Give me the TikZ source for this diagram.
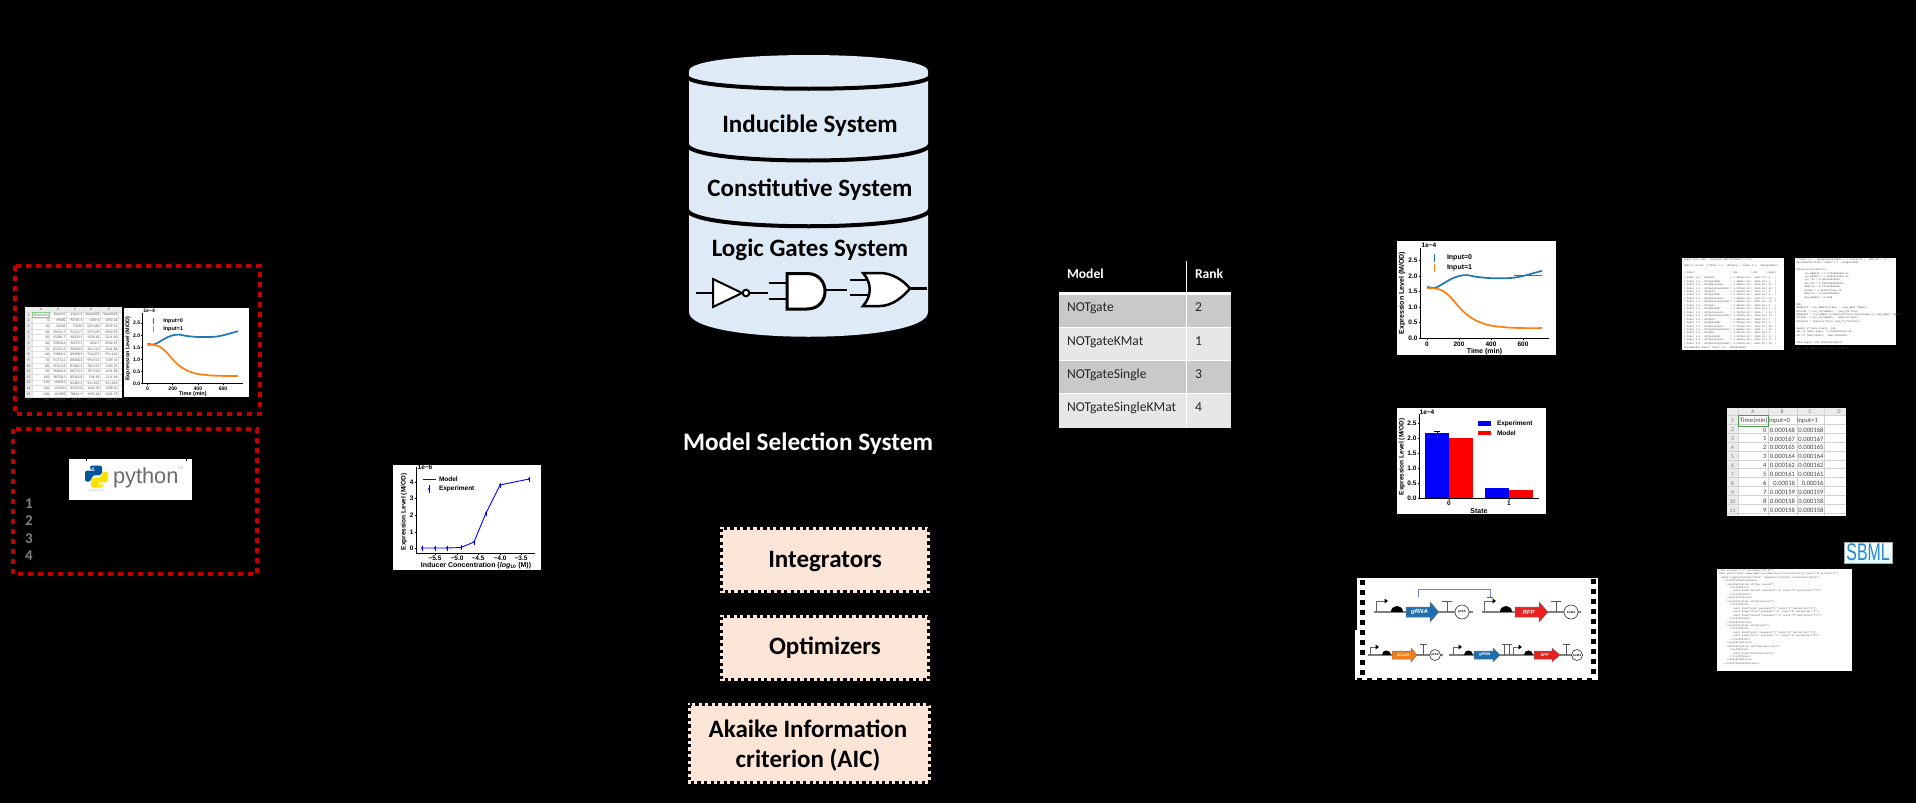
\documentclass[tikz,border=0pt]{standalone}
\usepackage{fontspec}
\setmainfont{Carlito}
\newfontfamily\ar{Liberation Sans}
\newfontfamily\mono{Liberation Mono}
\newcommand\fsz[1]{\fontsize{#1}{#1}\selectfont}
\newcommand\abold[1]{\ar\bfseries\fontsize{#1}{#1}\selectfont}
\definecolor{cylblue}{HTML}{DEEBF7}
\definecolor{peach}{HTML}{FBE5D6}
\definecolor{dred}{HTML}{C00000}
\definecolor{rowa}{HTML}{C9C9C9}
\definecolor{rowb}{HTML}{E7E7E7}
\definecolor{mplblue}{HTML}{1F77B4}
\definecolor{mplorange}{HTML}{FF7F0E}
\definecolor{grnblue}{HTML}{1F6FB0}
\definecolor{grnred}{HTML}{E8201F}
\definecolor{grnorange}{HTML}{F57F17}
\definecolor{grayline}{HTML}{7F7F7F}
\definecolor{sbmlblue}{HTML}{2A86C8}
\tikzset{
  every node/.style={inner sep=0pt,outer sep=0pt},
  redbox/.style={draw=dred,line width=4.5pt,dash pattern=on 5pt off 5pt},
  bigtxt/.style={anchor=base,font=\bfseries\fsz{25}},
  peachbox/.style={fill=peach},
  peachdash/.style={draw=black,line width=3pt,dash pattern=on 3.3pt off 3.3pt},
  tabtxt/.style={anchor=base west,font=\fsz{13.6}},
  tick/.style={line width=.6pt,black},
  axisl/.style={line width=.7pt,black},
  ticklab/.style={font=\abold{6.5}},
  leglab/.style={font=\abold{7},anchor=west},
  axlab/.style={font=\abold{7}},
  axlabs/.style={font=\abold{6.5}},
  celltxt/.style={font=\fsz{3.7},text=black!65},
  bigcell/.style={font=\fsz{6.6},text=black!75},
  gridl/.style={line width=.25pt,black!12},
  gline/.style={line width=1.3pt,grayline},
  gterm/.style={line width=.9pt,black!65},
  logtxt/.style={anchor=north west,font=\mono\fontsize{2.45}{3.45}\selectfont,text=black!70,align=left},
}
% time-course plot drawn in a 159 x 114 local box
\newcommand\timeplot{%
  \fill[white] (0,0) rectangle (159,114);
  \draw[axisl] (23,7) -- (23,97) -- (152,97);
  \foreach \v/\lab in {0/0.0,0.5/0.5,1/1.0,1.5/1.5,2/2.0,2.5/2.5}{
    \draw[tick] (21.5,{97-31*\v}) -- (23,{97-31*\v});
    \node[ticklab,anchor=east] at (20.5,{97-31*\v}) {\lab};
  }
  \foreach \v in {0,200,400,600}{
    \draw[tick] ({30+.16*\v},97) -- ({30+.16*\v},98.5);
    \node[ticklab] at ({30+.16*\v},103.5) {\v};
  }
  \node[axlab] at (87.5,111) {Time (min)};
  \node[axlab,rotate=90] at (5,52) {Expression Level (M/OD)};
  \node[ticklab] at (32,4) {1e−4};
  \begin{scope}[shift={(30,97)},x=.16pt,y=31pt]
    \draw[mplblue,line width=1.7pt,smooth] plot coordinates {(0,1.65)(50,1.62)(100,1.75)(150,1.9)(200,2.0)(250,2.03)(300,1.98)(350,1.95)(400,1.93)(500,1.93)(550,1.95)(600,2.0)(650,2.07)(720,2.17)};
    \draw[mplorange,line width=1.7pt,smooth] plot coordinates {(0,1.6)(50,1.6)(100,1.52)(150,1.3)(200,1.0)(250,.75)(300,.58)(350,.47)(400,.4)(500,.34)(600,.32)(720,.32)};
  \end{scope}
  \draw[mplblue,line width=.7pt] (37.5,12.5) -- (37.5,21);
  \fill[mplblue] (37.5,17) circle (1);
  \draw[mplorange,line width=.7pt] (37.5,22.5) -- (37.5,31);
  \fill[mplorange] (37.5,27) circle (1);
  \node[leglab] at (50,17) {Input=0};
  \node[leglab] at (50,27) {Input=1};
}
\newcommand\promoter[4]{% x, base y, top y, arrow end x
  \draw[line width=.9pt,black!60] (#1,#2) -- (#1,#3) -- ({#4-3},#3);
  \fill[black] ({#4-3.5},{#3-2.5}) -- (#4,#3) -- ({#4-3.5},{#3+2.5}) -- cycle;
}
\newcommand\rbs[3]{% x, y, r
  \fill[black] ({#1-#3},#2) .. controls ({#1-#3},{#2-1.33*#3}) and ({#1+#3},{#2-1.33*#3}) .. ({#1+#3},#2) -- cycle;
}
\newcommand\gterminator[3]{% x, base y, half bar
  \draw[gterm] (#1,#2) -- (#1,{#2-10.5});
  \draw[gterm] ({#1-#3},{#2-10.5}) -- ({#1+#3},{#2-10.5});
}
\newcommand\gorigin[4]{% x, y, r, text
  \node[circle,draw=black!80,line width=.6pt,fill=white,minimum size={2*#3},font=\abold{3}] at (#1,#2) {#4};
}
\newcommand\gene[9]{% x1, xhead, x2, y, hb, hh, colour, text, size
  \fill[#7,draw=black!55,line width=.5pt] (#1,{#4-#5}) -- (#2,{#4-#5}) -- (#2,{#4-#6}) -- (#3,#4) -- (#2,{#4+#6}) -- (#2,{#4+#5}) -- (#1,{#4+#5}) -- cycle;
  \node[text=white,font=\ar\bfseries\itshape\fontsize{#9}{#9}\selectfont] at ({(#1+#2)/2+1.5},#4) {#8};
}
\begin{document}
\begin{tikzpicture}[x=1pt,y=-1pt]
\path[use as bounding box,fill=black] (0,0) rectangle (1916,803);

% ---------- left: red dotted boxes ----------
\draw[redbox] (15,266) rectangle (260,414);
\draw[redbox] (13,429) rectangle (257,574);

% spreadsheet, left
\fill[white] (25,307) rectangle (122,398);
\fill[black!8] (25,307) rectangle (122,312);
\fill[black!8] (25,312) rectangle (32,398);
\foreach \x in {32,49.5,66,83,100,118}{\draw[gridl] (\x,307) -- (\x,398);}
\foreach \i in {0,...,15}{\draw[gridl] (25,{312+\i*5.65}) -- (122,{312+\i*5.65});}
\foreach \x/\c in {41/A,58/B,75/C,91/D,109/E}{\node[celltxt] at (\x,309.6) {\c};}
\draw[black!35!green!50,line width=.5pt] (32,312) rectangle (49.5,317.6);
\node[celltxt,anchor=east] at (49,315) {Time(min)};
\node[celltxt,anchor=east] at (65.5,315) {Input=0};
\node[celltxt,anchor=east] at (82.5,315) {Input=1};
\node[celltxt,anchor=east] at (99.5,315) {Input0AX};
\node[celltxt,anchor=east] at (117.5,315) {Input0AX};
\node[celltxt] at (28.5,315) {1};
\foreach \t/\b/\c/\d/\e [count=\i from 1] in {0/49082/95701.5/1369.6/3392.34,10/54306/93050/529.082/3939.31,20/50154.7/91512.7/559.549/3922.59,30/93381.7/90303.5/1558.62/2311.03,40/59858.6/90579.5/1832.7/2902.95,50/83332.5/90450.9/281.113/1041.86,60/93868.5/89098.9/724.073/951.162,70/94774.2/88568.5/996.537/1109.35,80/95510.8/87685.3/780.519/1100.35,90/96880.6/86775.9/787.552/1231.86,100/98758.5/85562.8/936.58/1311.96,110/100013/82481.5/941.607/921.842,120/102050/83535.8/1040.96/1358.04,130/101898/78651.9/1493.66/1421.73,140/105325/76010.7/703.237/1305.36}{
  \pgfmathsetmacro\yy{315+\i*5.65}
  \pgfmathtruncatemacro\rr{\i+1}
  \node[celltxt] at (28.5,\yy) {\rr};
  \node[celltxt,anchor=east] at (49,\yy) {\t};
  \node[celltxt,anchor=east] at (65.5,\yy) {\b};
  \node[celltxt,anchor=east] at (82.5,\yy) {\c};
  \node[celltxt,anchor=east] at (99.5,\yy) {\d};
  \node[celltxt,anchor=east] at (117.5,\yy) {\e};
}
\begin{scope}[shift={(124,308)},xscale=.786,yscale=.78,every node/.append style={transform shape}]
  \timeplot
\end{scope}

% python logo
\fill[white] (69,459) rectangle (192,500);
\fill[black] (85.5,459) rectangle (87,461);
\fill[black] (185.5,459) rectangle (187,461);
\fill[black!8] (96.5,490) ellipse (9 and 1.5);
\fill[blue!45!cyan!60!black,rounded corners=2pt] (90,465.5) -- (102,465.5) -- (102,475) -- (92,475.6) -- (91,481.5) -- (85,481.5) -- (85,470.7) -- (96,470.7) -- (96,469.5) -- (90,469.5) -- cycle;
\fill[yellow!85!orange,rounded corners=2pt] (103,487.5) -- (91,487.5) -- (91,478) -- (101,477.4) -- (102,471.5) -- (108,471.5) -- (108,482.3) -- (97,482.3) -- (97,483.5) -- (103,483.5) -- cycle;
\fill[white] (93,468) circle (.9);
\fill[white] (100,485) circle (.9);
\node[anchor=base west,text=black!58,font=\ar\fontsize{21.8}{21.8}\selectfont] (py) at (113,483.5) {python};
\node[text=black!35,font=\ar\fontsize{3.5}{3.5}\selectfont] at (180.5,468) {TM};
\foreach \n/\yb in {1/508,2/525,3/543,4/560}{
  \node[anchor=base,text=grayline,font=\bfseries\fsz{15}] at (29,\yb) {\n};
}

% ---------- dose-response plot ----------
\fill[white] (393,465) rectangle (541,570);
\draw[axisl] (416,467) -- (416,553) -- (535,553);
\foreach \v/\yy in {0/548,1/532,2/515.5,3/498,4/482}{
  \draw[tick] (414.5,\yy) -- (416,\yy);
  \node[ticklab,anchor=east] at (413.5,\yy) {\v};
}
\foreach \lab/\xx in {−5.5/435,−5.0/457,−4.5/478,−4.0/500,−3.5/521}{
  \draw[tick] (\xx,553) -- (\xx,554.5);
  \node[ticklab] at (\xx,558) {\lab};
}
\node[axlabs,rotate=90] at (404,512) {Expression Level (M/OD)};
\node[font=\abold{7}] at (476,566) {Inducer Concentration (\textit{log}\textsubscript{10} (M))};
\node[ticklab] at (425,467.5) {1e−6};
\draw[blue,line width=.9pt] (422,548) -- (435,548) -- (447,548) -- (461,547.5) -- (474,542) -- (486,513) -- (500,485) -- (529,479);
\foreach \xx/\yy in {422/548,435/548,447/548,461/547.5,474/542,486/513,500/485,529/479}{
  \fill[blue] (\xx,\yy) circle (1.1);
  \draw[blue,line width=.4pt] (\xx,{\yy-2.5}) -- (\xx,{\yy+2.5});
}
\draw[blue,line width=.9pt] (423,479) -- (436,479);
\draw[blue,line width=.5pt] (429,485) -- (429,493);
\fill[blue] (429,489) circle (1.2);
\node[ticklab,anchor=west] at (439,479.5) {Model};
\node[ticklab,anchor=west] at (439,489) {Experiment};

% ---------- cylinder ----------
\fill[cylblue] (689,71) .. controls (689,49.7) and (928,49.7) .. (928,71) -- (928,312) .. controls (928,345) and (689,345) .. (689,312) -- cycle;
\draw[black,line width=4pt] (687,76) .. controls (687,93) and (930,93) .. (930,76);
\draw[black,line width=4pt] (687,144) .. controls (687,166) and (930,166) .. (930,144);
\draw[black,line width=4pt] (687,209) .. controls (687,232) and (930,232) .. (930,209);
\node[bigtxt] (indsys) at (810,132) {Inducible System};
\node[bigtxt] (consys) at (810,196) {Constitutive System};
\node[bigtxt] (logsys) at (810,256) {Logic Gates System};
% NOT gate
\draw[black,line width=2pt] (696,293) -- (713,293);
\draw[black,line width=2pt] (745,293) -- (768,293);
\draw[black,line width=2pt,fill=white] (713,279) -- (713,307) -- (742,293) -- cycle;
\draw[black,line width=2pt,fill=white] (746,293) circle (3.3);
% AND gate
\draw[black,line width=2.5pt] (769,283) -- (787,283);
\draw[black,line width=2.5pt] (769,299) -- (787,299);
\draw[black,line width=2.5pt] (825,290) -- (847,290);
\draw[black,line width=3pt,fill=white] (787,273.5) -- (807,273.5) .. controls (831,273.5) and (831,309) .. (807,309) -- (787,309) -- cycle;
% OR gate
\draw[black,line width=2.5pt] (850,280) -- (870,280);
\draw[black,line width=2.5pt] (850,295) -- (870,295);
\draw[black,line width=2.5pt] (908,288.5) -- (927,288.5);
\draw[black,line width=2.5pt,fill=white] (863,273) -- (880,273) .. controls (892,273) and (903,280) .. (910,288.5) .. controls (903,297) and (892,306) .. (880,306) -- (863,306) .. controls (872,296) and (872,283) .. (863,273) -- cycle;

\node[anchor=base,text=white,font=\bfseries\fsz{25.2}] (msel) at (808,450.5) {Model Selection System};

% ---------- peach boxes ----------
\fill[peachbox] (720,527) rectangle (930,593);
\draw[peachdash] (721.5,528.5) rectangle (928.5,591.5);
\node[bigtxt] (integ) at (825,567) {Integrators};
\fill[peachbox] (720,615) rectangle (930,681);
\draw[peachdash] (721.5,616.5) rectangle (928.5,679.5);
\node[bigtxt] (optim) at (825,654) {Optimizers};
\fill[peachbox] (688,703) rectangle (931,784);
\draw[peachdash] (689.5,704.5) rectangle (929.5,782.5);
\node[bigtxt] (aic1) at (808,737) {Akaike Information};
\node[bigtxt] (aic2) at (808,767) {criterion (AIC)};

% ---------- ranking table ----------
\fill[white] (1059,292) rectangle (1231,295);
\fill[rowa] (1059,295) rectangle (1231,327);
\fill[white] (1059,327) rectangle (1231,328);
\fill[rowb] (1059,328) rectangle (1231,360);
\fill[white] (1059,360) rectangle (1231,361);
\fill[rowa] (1059,361) rectangle (1231,393);
\fill[white] (1059,393) rectangle (1231,394);
\fill[rowb] (1059,394) rectangle (1231,428);
\draw[white,line width=1pt] (1186,261) -- (1186,428);
\node[tabtxt,text=white,font=\bfseries\fsz{13.6}] at (1067,278) {Model};
\node[tabtxt,text=white,font=\bfseries\fsz{13.6}] at (1195,278) {Rank};
\foreach \m/\r/\yb in {NOTgate/2/311.5,NOTgateKMat/1/345,NOTgateSingle/3/378.5,NOTgateSingleKMat/4/411.5}{
  \node[tabtxt,text=black!85] at (1067,\yb) {\m};
  \node[tabtxt,text=black!85] at (1195,\yb) {\r};
}

% ---------- result plots ----------
\begin{scope}[shift={(1397,241)}]
  \timeplot
  \draw[mplblue,line width=.5pt] (117,34.5) -- (145,34.5);
\end{scope}

\fill[white] (1397,408) rectangle (1546,514);
\fill[blue] (1425,433) rectangle (1449,498);
\fill[red] (1449,438) rectangle (1473,498);
\fill[blue] (1485,488) rectangle (1509,498);
\fill[red] (1509,489.5) rectangle (1533,498);
\draw[black,line width=.4pt] (1437,431.5) -- (1437,433) (1434,431.5) -- (1440,431.5);
\draw[black,line width=.4pt] (1497,487.5) -- (1497,488);
\draw[axisl] (1419,414) -- (1419,498) -- (1539,498);
\foreach \v/\yy in {0.0/498,0.5/483,1.0/468,1.5/453,2.0/438,2.5/423}{
  \draw[tick] (1417.5,\yy) -- (1419,\yy);
  \node[ticklab,anchor=east] at (1416.5,\yy) {\v};
}
\foreach \v/\xx in {0/1449,1/1509}{
  \draw[tick] (\xx,498) -- (\xx,499.5);
  \node[ticklab] at (\xx,503.5) {\v};
}
\node[axlab] at (1479,511) {State};
\node[axlabs,rotate=90] at (1402,457) {Expression Level (M/OD)};
\node[ticklab] at (1427,412) {1e−4};
\fill[blue] (1478,421) rectangle (1491,425.5);
\fill[red] (1478,430.5) rectangle (1491,435);
\node[ticklab,anchor=west] at (1497,423.5) {Experiment};
\node[ticklab,anchor=west] at (1497,433) {Model};

% ---------- gene circuits ----------
\fill[white] (1357,578) rectangle (1598,630);
\fill[white] (1355,630) rectangle (1598,680);
\foreach \i in {0,...,9}{
  \fill[black] (1360,{580+\i*10}) rectangle (1365,{585+\i*10});
  \fill[black] (1591,{579+\i*10}) rectangle (1596,{584+\i*10});
}
\foreach \i in {0,...,23}{\fill[black] ({1357+\i*10},678) rectangle ({1362+\i*10},680);}
% top row
\draw[gline] (1374,612) -- (1473,612);
\draw[gline] (1482,612) -- (1581,612);
\promoter{1376}{612}{601}{1388}
\rbs{1397}{612}{6}
\gene{1406}{1430}{1439}{612}{5}{10}{grnblue}{gRNA}{6}
\gterminator{1447}{612}{5}
\gorigin{1462}{612}{7}{p15A}
\draw[line width=1pt,black!20!cyan!40!blue!60] (1418,597) -- (1418,589) -- (1490,589) -- (1490,597);
\draw[line width=1pt,grnblue] (1487,597.5) -- (1493,597.5);
\promoter{1484}{612}{601}{1496}
\rbs{1506}{612}{6}
\gene{1515}{1539}{1548}{612}{5}{10}{grnred}{RFP}{6}
\gterminator{1556}{612}{5}
\gorigin{1571}{612}{7}{ColE1}
% bottom row
\draw[gline] (1368,655) -- (1443,655);
\draw[gline] (1449,655) -- (1583,655);
\promoter{1370}{655}{647}{1379}
\rbs{1386}{655}{4.5}
\gene{1392}{1411}{1417}{655}{4}{7}{grnorange}{dCas9}{4}
\gterminator{1423}{655}{3.5}
\gorigin{1435}{655}{5.5}{p15A}
\promoter{1453}{655}{647}{1462}
\rbs{1468}{655}{4.5}
\gene{1474}{1493}{1500}{655}{4}{7}{grnblue}{gRNA}{4}
\gterminator{1504}{655}{2.5}
\gterminator{1509}{655}{2.5}
\promoter{1513}{655}{647}{1522}
\rbs{1528}{655}{4.5}
\gene{1534}{1552}{1560}{655}{4}{7}{grnred}{RFP}{4}
\gterminator{1566}{655}{3.5}
\gorigin{1577}{655}{5.5}{ColE1}

% ---------- console logs ----------
\fill[white] (1682,258) rectangle (1784,350);
\node[logtxt] (log1) at (1684,258.5) {%
Input file name: Logicdata\_NOTfastRESULT\_1.csv\\[2.4pt]
Models Tested: ['Model 1.0 - NOTgate', 'Model 1.1 - NOTgateKMat', '\\[3pt]
\begin{tabular}{@{}l@{\,\,}l@{\,\,}l@{\,\,}l@{\,}l@{}}
| Model &| SSE &| AIC &| Rank &|\\[2.2pt]
| Model 1.0 - NOTgate &| 1.48315e-04 &| -3530.75 &| 5 &|\\
| Model 1.1 - NOTgateKMat &| 1.18961e-04 &| -3565.33 &| 1 &|\\
| Model 1.2 - NOTgateSingle &| 1.53567e-04 &| -3525.62 &| 13 &|\\
| Model 1.3 - NOTgateSingleKMat &| 1.37390e-04 &| -3500.59 &| 10 &|\\
| Model 1.0 - NOTgate &| 1.48315e-04 &| -3530.75 &| 5 &|\\
| Model 1.1 - NOTgateKMat &| 1.31807e-04 &| -3549.31 &| 4 &|\\
| Model 1.2 - NOTgateSingle &| 1.55385e-04 &| -3524.22 &| 15 &|\\
| Model 1.3 - NOTgateSingleKMat &| 1.38395e-04 &| -3501.65 &| 12 &|\\
| Model 1.0 - NOTgate &| 1.48315e-04 &| -3530.63 &| 6 &|\\
| Model 1.1 - NOTgateKMat &| 1.28766e-04 &| -3552.61 &| 3 &|\\
| Model 1.2 - NOTgateSingle &| 1.75271e-04 &| -3504.7 &| 14 &|\\
| Model 1.3 - NOTgateSingleKMat &| 1.37815e-04 &| -3500.16 &| 11 &|\\
| Model 1.0 - NOTgate &| 1.48315e-04 &| -3530.75 &| 7 &|\\
| Model 1.1 - NOTgateKMat &| 1.28766e-04 &| -3552.60 &| 2 &|\\
| Model 1.2 - NOTgateSingle &| 1.71316e-04 &| -3504.67 &| 16 &|\\
| Model 1.3 - NOTgateSingleKMat &| 1.55000e-04 &| -3501.4 &| 18 &|\\
| Model 1.0 - NOTgate &| 1.39278e-04 &| -3539.83 &| 8 &|\\
| Model 1.1 - NOTgateKMat &| 1.30746e-04 &| -3549.31 &| 9 &|\\
| Model 1.2 - NOTgateSingle &| 1.35451e-04 &| -3543.75 &| 17 &|\\
| Model 1.3 - NOTgateSingleKMat &| 1.37824e-04 &| -3363.84 &| 19 &|
\end{tabular}\\
Recommended Model: Model 1.1 - NOTgateKMat};

\fill[white] (1795,258) rectangle (1896,345);
\node[logtxt] (log2) at (1796.5,258.5) {%
| Model 1.3 - NOTgateSingleKMat | 1.37824e-04 | -3363.84 |\quad 17 |\\
Recommended Model: Model 1.1 - NOTgateKMat\\[3.45pt]
Optimized Parameters:\\
\hspace*{8pt}cyn\_mRNA13 = 7.51750835394e-07\\
\hspace*{8pt}cyn\_mRNA23 = 7.15464547439e-06\\
\hspace*{8pt}syn\_Tho = 0.081541015053\\
\hspace*{8pt}deg\_Tho = 0.058518889438917\\
\hspace*{8pt}Hmaxrep = 0.107462685205\\
\hspace*{8pt}Pandax = 1.0536137761e-05\\
\hspace*{8pt}Dmaxlux = 0.264978366997\\
\hspace*{8pt}deg\_mRNA23 = 0.1386\\[3.45pt]
ODE:\\
dmRNA1dt = syn\_mRNA13(state) - (deg\_mRNA *mRNA1)\\
dTho1dt = (syn\_Tho*mRNA1) - (deg\_Tho*Tho1)\\
dmRNA2dt = (syn\_mRNA2*(1-Hmaxrep*Tho1/(Tho1+Pandax)))-(deg\_mRNA * mRNA2)\\
dTho2dt = (syn\_Tho*mRNA2) - (Dmaxlux*Tho2)\\
dTho2net = (Dmaxlux*Tho2)-(deg\_Tho*Tho2Tho)\\[3.45pt]
Number of Data points: 140\\
SSE of (Best Model: 1.07000055133e-05\\
AIC of (Best Model: -3583.68553610\\[3.45pt]
Time taken: 436.203693357349701\\[3.45pt]
Date and Time: 20-09-2020, 10:44:39};

% ---------- spreadsheet, right ----------
\fill[white] (1727,408) rectangle (1846,516);
\fill[black!8] (1727,408) rectangle (1846,415);
\fill[black!8] (1727,415) rectangle (1738,516);
\foreach \x in {1738,1768,1797,1824}{\draw[gridl,black!18] (\x,408) -- (\x,516);}
\foreach \i in {0,...,11}{\draw[gridl,black!18] (1727,{415+\i*8.93}) -- (1846,{415+\i*8.93});}
\foreach \x/\c in {1753/A,1782/B,1810/C,1839/D}{\node[font=\fsz{5.5},text=black!55] at (\x,411.7) {\c};}
\draw[green!45!black!70,line width=.6pt] (1738,415.5) rectangle (1768,426);
\node[bigcell,anchor=west] at (1740,421) {Time(min)};
\node[bigcell,anchor=west] at (1769,421) {Input=0};
\node[bigcell,anchor=west] at (1797,421) {Input=1};
\node[font=\fsz{5.5},text=black!55] at (1732.5,421) {1};
\foreach \t/\a/\b [count=\i from 1] in {0/0.000168/0.000168,1/0.000167/0.000167,2/0.000165/0.000165,3/0.000164/0.000164,4/0.000162/0.000162,5/0.000161/0.000161,6/0.00016/0.00016,7/0.000159/0.000159,8/0.000158/0.000158,9/0.000158/0.000158}{
  \pgfmathsetmacro\yy{421+\i*8.93}
  \pgfmathtruncatemacro\rr{\i+1}
  \node[font=\fsz{5.5},text=black!55] at (1732.5,\yy) {\rr};
  \node[bigcell,anchor=east] at (1766.5,\yy) {\t};
  \node[bigcell,anchor=east] at (1795,\yy) {\a};
  \node[bigcell,anchor=east] at (1823.5,\yy) {\b};
}

% ---------- SBML ----------
\shade[top color=white,bottom color=cyan!12,draw=black!35,line width=.6pt] (1844,542) rectangle (1892,563);
\node[text=sbmlblue,xscale=.66,font=\ar\fontsize{24}{24}\selectfont] (sbml) at (1868,552.5) {SBML};

% ---------- XML ----------
\fill[white] (1717,569) rectangle (1852,671);
\newcommand\xl[2]{\hspace*{#1pt}#2\\}
\node[logtxt] (xmlf) at (1718,569.5) {%
\xl{0}{<?xml version="1.0" encoding="UTF-8"?>}%
\xl{0}{<sbml xmlns="http://www.sbml.org/sbml/level3/version1/core" level="3" version="1">}%
\xl{3}{<model substanceUnits="mole" timeUnits="second" extentUnits="mole">}%
\xl{6}{<listOfUnitDefinitions>}%
\xl{9}{<unitDefinition id="per\_second">}%
\xl{12}{<listOfUnits>}%
\xl{15}{<unit kind="second" exponent="-1" scale="0" multiplier="1"/>}%
\xl{12}{</listOfUnits>}%
\xl{9}{</unitDefinition>}%
\xl{9}{<unitDefinition id="molperLsec">}%
\xl{12}{<listOfUnits>}%
\xl{15}{<unit kind="mole" exponent="1" scale="0" multiplier="1"/>}%
\xl{15}{<unit kind="litre" exponent="-1" scale="0" multiplier="1"/>}%
\xl{15}{<unit kind="second" exponent="-1" scale="0" multiplier="1"/>}%
\xl{12}{</listOfUnits>}%
\xl{9}{</unitDefinition>}%
\xl{9}{<unitDefinition id="molperL">}%
\xl{12}{<listOfUnits>}%
\xl{15}{<unit kind="mole" exponent="1" scale="0" multiplier="1"/>}%
\xl{15}{<unit kind="litre" exponent="-1" scale="0" multiplier="1"/>}%
\xl{12}{</listOfUnits>}%
\xl{9}{</unitDefinition>}%
\xl{9}{<unitDefinition id="Dimension\_less">}%
\xl{12}{<listOfUnits>}%
\xl{15}{<unit kind="dimensionless"/>}%
\xl{12}{</listOfUnits>}%
\xl{9}{</unitDefinition>}%
\hspace*{6pt}</listOfUnitDefinitions>};
\end{tikzpicture}
\end{document}
